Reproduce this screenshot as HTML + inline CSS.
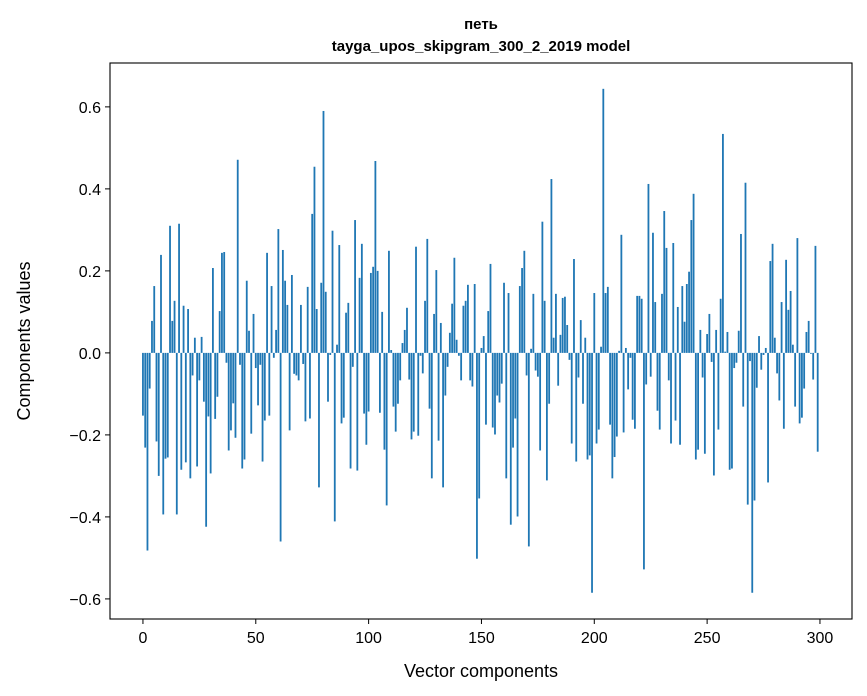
<!DOCTYPE html>
<html><head><meta charset="utf-8">
<style>
html,body{margin:0;padding:0;background:#fff;}
svg{display:block;font-family:"Liberation Sans","DejaVu Sans",sans-serif;}
</style></head>
<body>
<svg id="chart" width="867" height="696" viewBox="0 0 867 696" xmlns="http://www.w3.org/2000/svg">
<rect x="0" y="0" width="867" height="696" fill="#fff"/>
<text x="481" y="29" text-anchor="middle" font-size="15" font-weight="bold">петь</text>
<text x="481" y="51" text-anchor="middle" font-size="15" font-weight="bold">tayga_upos_skipgram_300_2_2019 model</text>
<g id="bars"></g>
<g id="xticks"></g>
<g id="yticks"></g>
<rect x="110" y="63" width="742" height="556" fill="none" stroke="#000" stroke-width="1.1"/>
<text x="481" y="677" text-anchor="middle" font-size="18">Vector components</text>
<text transform="translate(30,341) rotate(-90)" text-anchor="middle" font-size="18">Components values</text>
</svg>
<script>
const values = [
-0.153,-0.231,-0.482,-0.087,0.078,0.163,-0.216,-0.30,0.239,-0.394,
-0.258,-0.255,0.31,0.078,0.127,-0.394,0.315,-0.285,0.115,-0.267,
0.107,-0.306,-0.055,0.037,-0.277,-0.067,0.039,-0.119,-0.424,-0.155,
-0.294,0.207,-0.161,-0.107,0.102,0.244,0.246,-0.024,-0.238,-0.189,
-0.123,-0.207,0.471,-0.029,-0.282,-0.26,0.176,0.054,-0.197,0.095,
-0.037,-0.128,-0.029,-0.265,-0.165,0.244,-0.153,0.163,-0.012,0.056,
0.302,-0.46,0.251,0.176,0.117,-0.189,0.19,-0.051,-0.055,-0.067,
0.117,-0.027,-0.167,0.161,-0.16,0.339,0.454,0.107,-0.328,0.171,
0.59,0.149,-0.119,-0.005,0.298,-0.411,0.02,0.263,-0.172,-0.158,
0.098,0.122,-0.282,-0.034,0.324,-0.287,0.183,0.266,-0.148,-0.224,
-0.143,0.195,0.21,0.468,0.2,-0.146,0.1,-0.236,-0.372,0.249,
0.007,-0.131,-0.192,-0.124,-0.067,0.024,0.056,0.11,-0.065,-0.211,
-0.192,0.259,-0.202,-0.007,-0.05,0.127,0.278,-0.136,-0.306,0.095,
0.202,-0.214,0.073,-0.328,-0.104,-0.034,0.049,0.12,0.232,0.032,
-0.007,-0.067,0.115,0.127,0.166,-0.067,-0.082,0.168,-0.502,-0.355,
0.012,0.041,-0.175,0.102,0.217,-0.182,-0.199,-0.104,-0.121,-0.075,
0.171,-0.306,0.146,-0.419,-0.231,-0.16,-0.399,0.163,0.207,0.249,
-0.055,-0.472,0.01,0.144,-0.043,-0.058,-0.238,0.32,0.127,-0.311,
-0.124,0.424,0.037,0.144,-0.08,0.044,0.134,0.137,0.068,-0.017,
-0.221,0.229,-0.265,-0.06,0.08,-0.124,0.037,-0.26,-0.25,-0.585,
0.146,-0.221,-0.187,0.015,0.644,0.146,0.161,-0.175,-0.306,-0.254,
-0.204,0.005,0.288,-0.194,0.012,-0.089,-0.012,-0.163,-0.185,0.139,
0.139,0.132,-0.528,-0.077,0.412,-0.058,0.293,0.124,-0.141,-0.187,
0.144,0.346,0.256,-0.067,-0.221,0.268,-0.165,0.112,-0.224,0.163,
0.076,0.168,0.198,0.324,0.388,-0.26,-0.236,0.056,-0.06,-0.246,
0.046,0.095,-0.022,-0.299,0.056,-0.187,0.132,0.534,0.003,0.051,
-0.285,-0.282,-0.037,-0.024,0.054,0.29,-0.131,0.415,-0.37,-0.02,
-0.585,-0.36,-0.085,0.041,-0.041,-0.005,0.012,-0.316,0.224,0.266,
0.037,-0.05,-0.116,0.124,-0.185,0.227,0.105,0.151,0.02,-0.131,
0.28,-0.172,-0.158,-0.087,0.051,0.078,-0.002,-0.065,0.261,-0.241
];
const xTickValues = [0,50,100,150,200,250,300];
const yTickValues = [-0.6,-0.4,-0.2,0.0,0.2,0.4,0.6];
const yTickLabels = ["\u22120.6","\u22120.4","\u22120.2","0.0","0.2","0.4","0.6"];

const NS = "http://www.w3.org/2000/svg";
const plot = {left:110,right:852,top:63,bottom:619};
const xMin=-14.6, xMax=314.2, yMin=-0.649, yMax=0.707;
function xs(v){return plot.left+(v-xMin)/(xMax-xMin)*(plot.right-plot.left);}
function ys(v){return plot.bottom-(v-yMin)/(yMax-yMin)*(plot.bottom-plot.top);}

const barsG=document.getElementById('bars');
values.forEach((v,i)=>{
  const r=document.createElementNS(NS,'rect');
  const x0=xs(i-0.4), x1=xs(i+0.4);
  const y0=ys(Math.max(v,0)), y1=ys(Math.min(v,0));
  r.setAttribute('x',x0);r.setAttribute('width',x1-x0);
  r.setAttribute('y',y0);r.setAttribute('height',Math.max(y1-y0,0.3));
  r.setAttribute('fill','#1f77b4');
  
  
  barsG.appendChild(r);
});

const xg=document.getElementById('xticks');
xTickValues.forEach(t=>{
  const x=xs(t);
  const l=document.createElementNS(NS,'line');
  l.setAttribute('x1',x);l.setAttribute('x2',x);l.setAttribute('y1',plot.bottom);l.setAttribute('y2',plot.bottom+5);
  l.setAttribute('stroke','#000');
  
  
  xg.appendChild(l);
  const tx=document.createElementNS(NS,'text');
  tx.setAttribute('x',x);tx.setAttribute('y',plot.bottom+24);tx.setAttribute('text-anchor','middle');tx.setAttribute('font-size','16');
  tx.textContent=String(t);
  
  
  xg.appendChild(tx);
});
const yg=document.getElementById('yticks');
yTickValues.forEach((t,i)=>{
  const y=ys(t);
  const l=document.createElementNS(NS,'line');
  l.setAttribute('x1',plot.left-5);l.setAttribute('x2',plot.left);l.setAttribute('y1',y);l.setAttribute('y2',y);
  l.setAttribute('stroke','#000');
  
  
  yg.appendChild(l);
  const tx=document.createElementNS(NS,'text');
  tx.setAttribute('x',plot.left-9);tx.setAttribute('y',y+6);tx.setAttribute('text-anchor','end');tx.setAttribute('font-size','16');
  tx.textContent=yTickLabels[i];
  
  
  yg.appendChild(tx);
});
</script>
</body></html>
